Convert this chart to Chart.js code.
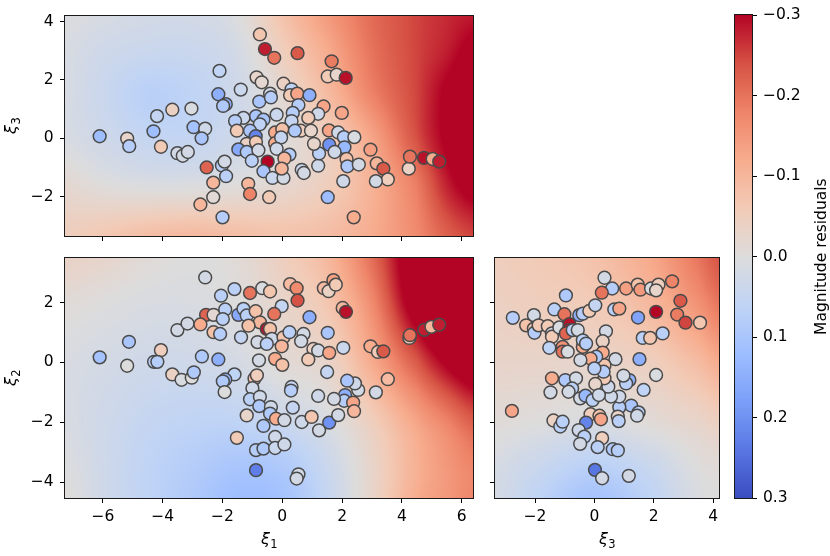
<!DOCTYPE html>
<html><head><meta charset="utf-8">
<script src="https://cdn.jsdelivr.net/npm/chart.js@4.4.1/dist/chart.umd.min.js"></script>
<style>
html,body{margin:0;padding:0;background:#fff;}
#wrap{position:relative;width:830px;height:556px;overflow:hidden;background:#fff;}
canvas{position:absolute;left:0;top:0;}
</style></head><body>
<div id="wrap">
<canvas id="cTop" width="830" height="556"></canvas>
<canvas id="cBL" width="830" height="556"></canvas>
<canvas id="cBR" width="830" height="556"></canvas>
<canvas id="cBar" width="830" height="556"></canvas>
</div>
<script>
// ---------- axis ranges & tick labels ----------
const xi1Range = [-7.27, 6.38];
const xi2Range = [-4.53, 3.49];
const xi3Range = [-3.35, 4.2];
const residualRange = [-0.3, 0.3];
const xi1Ticks = [-6, -4, -2, 0, 2, 4, 6];
const xi2Ticks = [-4, -2, 0, 2];
const xi3Ticks = [-2, 0, 2, 4];
const colorbarTicks = [-0.3, -0.2, -0.1, 0, 0.1, 0.2, 0.3];
const axisTitles = { xi1: ['ξ', '1'], xi2: ['ξ', '2'], xi3: ['ξ', '3'] };
const colorbarLabel = 'Magnitude residuals';

// ---------- points: [x, y, residual] ----------
// top panel: (ξ1, ξ3)
const pointsXi1Xi3 = [
[-6.11,0.07,0.12],[-5.19,-0.01,-0.03],[-5.12,-0.27,0.08],[-4.31,0.24,0.12],[-4.06,-0.29,-0.06],[-4.19,0.76,0.05],[-3.68,0.98,-0.04],[-3.04,1.02,0.01],[-3.51,-0.51,0.02],[-3.33,-0.60,0.02],[-3.16,-0.47,0.02],[-2.97,0.38,0.11],[-2.58,0.33,0.03],[-2.70,0.00,0.10],
[-0.75,3.56,-0.07],[-0.58,3.06,-0.28],[-0.27,2.76,-0.20],[0.51,2.92,-0.23],[1.65,2.64,-0.19],[1.52,2.12,-0.06],[-2.10,2.31,0.06],[-0.86,2.09,-0.03],[-0.69,1.92,-0.02],[-1.39,1.67,0.04],[0.04,1.87,-0.04],[-2.14,1.51,0.15],[-1.89,1.17,0.15],[-1.98,1.11,0.09],[-0.77,1.26,0.10],[-0.41,1.53,0.02],[-0.38,1.40,0.08],[0.31,1.68,0.06],[0.26,1.48,-0.06],[0.50,1.53,-0.13],[0.91,1.48,0.15],[0.54,1.14,0.08],[1.38,1.09,-0.13],[1.20,0.84,0.03],[0.87,0.70,-0.06],[0.35,0.87,0.08],[-0.19,0.81,0.04],[0.31,0.59,0.05],[-0.88,0.76,0.10],[-0.63,0.64,0.10],[-0.75,0.48,0.06],[-1.30,0.70,0.04],[-1.58,0.59,0.08],[-1.52,0.26,-0.06],[-1.08,0.26,0.10],[-0.89,0.07,0.22],[-1.19,-0.19,-0.04],[-0.88,-0.13,-0.06],[-0.24,0.20,-0.12],[0.00,0.31,-0.08],[-0.24,-0.17,-0.12],[-0.04,0.03,0.05],[-0.19,-0.36,0.03],[0.24,-0.56,0.08],[0.07,-0.69,-0.10],[-1.47,-0.38,0.16],[-1.19,-0.47,0.09],[-0.80,-0.41,0.02],[-1.02,-0.77,0.07],[-0.49,-0.80,-0.30],[-0.63,-1.13,0.10],[-0.33,-1.36,0.04],[0.04,-1.36,0.02],[-0.02,-1.04,-0.10],[0.65,-1.08,0.04],[0.72,-1.19,0.02],[1.20,-0.94,0.03],[1.23,-0.52,0.07],[0.62,0.26,-0.05],[0.96,0.26,-0.03],[1.06,-0.19,-0.03],[0.42,0.26,0.09],[-2.53,-1.00,-0.22],[-2.02,-0.93,0.08],[-1.93,-0.80,0.02],[-1.88,-1.30,0.07],[-2.31,-1.52,-0.10],[-1.14,-1.56,-0.10],[-1.08,-1.91,-0.18],[-2.31,-2.02,-0.01],[-2.74,-2.27,-0.10],[-2.00,-2.71,0.08],[-0.44,-2.02,-0.06],[1.52,-2.02,0.12],
[1.82,2.18,-0.03],[2.12,2.07,-0.29],[1.57,-0.22,0.20],[1.56,0.27,-0.13],[1.87,0.20,0.03],[2.06,0.04,0.08],[2.41,0.04,0.01],[2.08,-0.31,0.13],[2.95,-0.39,-0.14],[1.75,-0.47,0.03],[2.15,-0.71,-0.08],[2.18,-0.96,0.09],[2.56,-0.90,0.02],[3.16,-0.86,-0.10],[3.38,-1.04,-0.23],[3.53,-1.41,-0.05],[3.13,-1.47,0.02],[2.04,-1.47,0.03],[4.23,-1.04,-0.04],[4.27,-0.63,-0.20],[4.74,-0.67,-0.29],[5.03,-0.71,-0.12],[5.25,-0.80,-0.28],[1.99,0.87,-0.13],[2.39,-2.71,-0.12]
];
// bottom-left panel: (ξ1, ξ2)
const pointsXi1Xi2 = [
[-6.11,0.17,0.11],[-5.13,0.69,0.10],[-5.19,-0.11,0.00],[-4.06,0.41,-0.05],[-4.29,0.02,0.07],[-4.18,0.02,0.08],[-3.68,-0.40,-0.04],[-3.37,-0.58,0.01],[-3.03,-0.51,0.00],[-2.96,-0.33,0.09],[-3.51,1.08,0.02],[-3.17,1.30,0.02],
[-2.58,2.84,0.02],[-1.60,2.45,0.07],[-2.05,2.23,0.07],[-1.08,2.32,-0.20],[-0.67,2.48,0.01],[-0.41,2.37,-0.07],[0.26,2.62,-0.09],[0.48,2.48,-0.17],[0.51,2.07,-0.24],[-0.02,1.88,0.05],[0.91,1.51,0.15],[-2.55,1.59,-0.22],[-2.30,1.59,-0.02],[-2.74,1.27,-0.12],[-1.91,1.77,0.07],[-1.99,1.45,0.07],[-2.30,1.01,-0.08],[-2.08,0.95,0.08],[-1.47,1.59,0.16],[-1.30,1.79,0.07],[-1.19,1.57,0.07],[-0.89,1.71,-0.08],[-0.75,1.34,-0.10],[-1.13,1.23,-0.08],[-1.38,0.84,0.05],[-0.83,0.68,0.02],[-0.52,1.12,-0.29],[-0.41,1.12,-0.08],[-0.27,1.62,-0.20],[-0.35,0.79,0.03],[-0.52,0.62,0.07],[0.04,0.84,-0.07],[-0.02,0.54,-0.10],[0.24,1.01,0.07],[0.71,0.95,0.02],[0.63,0.71,0.02],[-0.24,0.12,-0.12],[0.00,-0.08,-0.08],[-0.78,0.07,0.02],[1.04,0.45,-0.04],[1.20,0.40,0.02],[1.57,0.32,-0.13],[0.87,0.10,-0.06],[1.52,0.99,0.10],[1.50,-0.32,0.05],[-2.69,0.20,0.09],[-2.14,0.10,0.15],[-1.60,-0.40,0.06],[-1.91,-0.57,0.14],[-1.99,-0.63,0.09],[-1.93,-0.99,0.00],[-0.93,-0.54,-0.08],[-0.85,-0.43,-0.05],[-1.00,-0.86,0.03],[-1.08,-1.23,0.07],[-0.75,-1.15,0.03],[-0.77,-1.46,0.09],[-0.38,-1.49,0.03],[-0.41,-1.71,0.09],[-0.21,-1.88,-0.12],[0.07,-1.93,0.02],[-1.19,-1.77,-0.03],[-0.63,-2.12,0.09],[0.31,-0.82,0.05],[0.29,-0.94,0.08],[0.35,-1.51,0.05],[0.65,-1.99,0.03],[0.98,-1.82,-0.07],[1.20,-1.12,0.03],[1.23,-2.27,0.02],[1.57,-2.01,0.20],[-1.52,-2.52,-0.06],[-0.88,-2.93,0.08],[-0.63,-2.88,0.09],[-0.24,-2.49,0.03],[-0.24,-2.86,0.04],[0.07,-2.74,0.03],[-0.88,-3.60,0.23],[0.54,-3.74,0.02],[0.48,-3.88,0.02],
[1.39,2.48,-0.09],[1.55,2.38,-0.04],[1.71,2.75,-0.14],[1.79,2.60,-0.06],[2.02,1.82,-0.10],[2.13,1.69,-0.29],[2.04,0.49,0.04],[2.95,0.54,-0.12],[3.20,0.35,-0.06],[3.38,0.37,-0.23],[3.53,-0.56,-0.09],[3.13,-1.00,0.02],[2.54,-0.92,0.02],[2.43,-0.70,0.03],[2.17,-0.61,0.10],[2.10,-1.09,0.15],[2.07,-1.28,0.08],[2.37,-1.34,-0.13],[2.40,-1.63,-0.10],[1.87,-1.76,0.02],[1.73,-1.22,0.02],[4.25,0.82,-0.06],[4.27,0.91,-0.20],[4.75,1.09,-0.28],[4.99,1.19,-0.10],[5.25,1.26,-0.28]
];
// bottom-right panel: (ξ3, ξ2)
const pointsXi3Xi2 = [
[-2.75,1.49,0.08],[-2.78,-1.62,-0.13],[-2.04,1.58,0.02],[-2.30,1.24,-0.08],[-2.04,1.13,-0.06],[-2.02,0.99,0.08],[-1.88,1.24,-0.06],[-1.57,1.21,-0.06],[-1.43,0.97,0.02],[-1.43,0.86,-0.06],[-1.52,0.49,0.06],[-1.35,1.77,0.07],[-0.96,2.24,0.09],[-1.01,1.61,-0.20],[-1.18,1.17,0.01],[-0.84,1.28,-0.29],[-0.87,1.08,-0.29],[-0.96,0.97,-0.22],[-0.73,1.08,0.07],[-0.56,1.08,0.02],[-0.51,1.58,0.15],[-0.39,1.63,0.08],[-0.17,1.72,-0.06],[0.03,1.91,0.05],[0.39,1.04,0.02],[0.28,0.71,-0.04],[0.34,2.83,0.02],[0.60,2.47,0.08],[0.25,2.33,-0.20],[0.67,1.77,0.07],[0.84,1.80,-0.13],[1.07,2.47,-0.14],[1.46,2.60,-0.08],[1.55,2.43,-0.15],[1.91,2.47,0.01],[2.16,2.60,-0.05],[2.08,2.41,-0.03],[2.62,2.71,-0.18],[2.90,2.06,-0.23],[2.08,1.69,-0.30],[2.79,1.60,-0.19],[3.07,1.33,-0.25],[3.56,1.33,-0.07],[1.47,1.50,0.17],[1.63,0.82,0.07],[1.88,0.82,-0.07],[2.30,0.97,0.07],[1.52,0.11,0.15],[2.08,-0.42,0.01],[1.66,-0.92,0.06],[1.24,-1.44,0.10],[1.49,-1.67,0.07],[1.44,-1.78,0.03],[0.84,-1.50,0.08],[0.79,-1.81,-0.03],[0.82,-1.96,0.07],[1.18,-0.59,0.14],[1.07,-0.70,0.07],[0.98,-0.44,0.02],[0.84,-1.14,0.03],[0.56,-1.14,0.03],[0.47,-0.81,0.03],[0.71,0.11,0.02],[0.34,-0.09,-0.07],[0.28,0.33,-0.12],[0.34,-0.53,-0.06],[0.31,-0.31,0.08],[0.03,-0.72,-0.03],[0.06,0.19,0.09],[-0.13,0.13,-0.12],[-0.39,0.52,-0.12],[-0.47,0.08,0.02],[-0.39,0.74,0.07],[-0.28,0.63,0.08],[-1.07,0.52,-0.16],[-1.07,0.36,-0.20],[-0.90,0.36,0.01],[-1.43,-0.53,-0.12],[-0.98,-0.59,0.09],[-0.62,-0.53,0.02],[-0.75,-0.87,0.07],[-0.87,-0.98,0.02],[-1.48,-1.00,0.02],[-0.48,-1.20,0.02],[-0.30,-1.11,0.13],[-0.06,-1.26,0.07],[0.15,-1.09,0.03],[-0.13,-1.73,-0.05],[0.17,-1.78,-0.08],[0.22,-1.90,-0.13],[-0.28,-2.01,0.22],[-0.53,-2.26,0.03],[-0.34,-2.48,0.07],[-0.48,-2.72,0.02],[-1.38,-1.94,-0.04],[-1.15,-2.14,0.07],[-1.07,-1.98,0.07],[0.26,-2.53,-0.05],[0.11,-2.83,0.07],[0.62,-2.90,0.09],[0.79,-2.94,0.08],[0.02,-3.59,0.24],[0.26,-3.87,0.02],[1.16,-3.79,0.02],[0.00,-0.20,0.07]
];

// ---------- background prediction fields (values read at grid nodes) ----------
const fieldXi1Nodes = [-7.5, -6, -4.5, -3, -1.5, 0, 1.5, 3, 4.5, 5.5, 6.5];
const fieldXi3NodesV = [4.5, 3, 1.5, 0, -1.5, -3.5];
const fieldXi1Xi3 = [
 [0.00, 0.01, 0.02, 0.02, 0.00, -0.08, -0.15, -0.21, -0.25, -0.27, -0.28],
 [0.01, 0.03, 0.04, 0.04, 0.02, -0.05, -0.12, -0.20, -0.25, -0.28, -0.32],
 [0.01, 0.04, 0.07, 0.06, 0.03, -0.02, -0.09, -0.18, -0.25, -0.31, -0.36],
 [0.01, 0.03, 0.05, 0.05, 0.03, 0.00, -0.05, -0.13, -0.24, -0.31, -0.37],
 [-0.02, 0.00, 0.01, 0.01, 0.00, -0.02, -0.05, -0.11, -0.19, -0.28, -0.33],
 [-0.05, -0.07, -0.09, -0.10, -0.09, -0.08, -0.09, -0.12, -0.17, -0.22, -0.25]
];
const fieldXi2NodesV = [3.75, 2, 0, -2, -3.5, -4.75];
const fieldXi1Xi2 = [
 [-0.04, -0.03, -0.01, 0.00, -0.01, -0.05, -0.10, -0.21, -0.36, -0.44, -0.44],
 [-0.01, 0.00, 0.01, 0.01, 0.00, -0.03, -0.07, -0.17, -0.34, -0.42, -0.44],
 [0.01, 0.02, 0.03, 0.03, 0.02, -0.01, -0.03, -0.12, -0.23, -0.31, -0.36],
 [0.01, 0.03, 0.05, 0.06, 0.06, 0.04, 0.01, -0.05, -0.13, -0.18, -0.23],
 [0.00, 0.03, 0.06, 0.08, 0.10, 0.09, 0.04, -0.03, -0.11, -0.15, -0.18],
 [-0.01, 0.03, 0.06, 0.09, 0.12, 0.11, 0.05, -0.03, -0.12, -0.15, -0.18]
];
const fieldXi3NodesH = [-3.75, -2, 0, 2, 3.5, 4.5];
const fieldXi3Xi2 = [
 [-0.05, -0.06, -0.08, -0.13, -0.20, -0.25],
 [-0.04, -0.05, -0.06, -0.10, -0.16, -0.21],
 [-0.03, -0.03, -0.03, -0.05, -0.09, -0.13],
 [-0.01, 0.00, 0.01, -0.01, -0.03, -0.05],
 [0.01, 0.04, 0.07, 0.04, 0.00, -0.01],
 [0.01, 0.06, 0.11, 0.06, 0.01, 0.00]
];

// coolwarm colour stops (0 -> 1)
const coolwarm = [[59,76,192],[89,119,227],[123,159,249],[158,190,255],[192,212,245],[221,220,220],[242,203,183],[247,172,142],[238,132,104],[214,82,68],[180,4,38]];

// ---------- helpers ----------
function cmapRGB(v) {
  let t = (residualRange[1] - v) / (residualRange[1] - residualRange[0]);
  t = Math.min(1, Math.max(0, t));
  const s = t * (coolwarm.length - 1);
  const k = Math.min(Math.floor(s), coolwarm.length - 2);
  const f = s - k, a = coolwarm[k], b = coolwarm[k + 1];
  return [a[0] + (b[0] - a[0]) * f, a[1] + (b[1] - a[1]) * f, a[2] + (b[2] - a[2]) * f];
}
function cmapCss(v) { const c = cmapRGB(v); return 'rgb(' + c.map(Math.round).join(',') + ')'; }
function idxOf(nodes, v) {
  const n = nodes.length, asc = nodes[n - 1] > nodes[0];
  if ((asc && v <= nodes[0]) || (!asc && v >= nodes[0])) return 0;
  for (let k = 0; k < n - 1; k++) {
    const a = nodes[k], b = nodes[k + 1];
    if ((asc && v <= b) || (!asc && v >= b)) return k + (v - a) / (b - a);
  }
  return n - 1;
}
function cr(p0, p1, p2, p3, t) {
  const t2 = t * t, t3 = t2 * t;
  return 0.5 * (2 * p1 + (-p0 + p2) * t + (2 * p0 - 5 * p1 + 4 * p2 - p3) * t2 + (-p0 + 3 * p1 - 3 * p2 + p3) * t3);
}
function sampleField(gx, gy, z, x, y) {
  const nx = gx.length, ny = gy.length;
  const u = idxOf(gx, x), w = idxOf(gy, y);
  const i = Math.min(Math.floor(u), nx - 2), j = Math.min(Math.floor(w), ny - 2);
  const tu = u - i, tw = w - j;
  const cc = k => Math.min(Math.max(k, 0), nx - 1), rc = k => Math.min(Math.max(k, 0), ny - 1);
  const r = [];
  for (let m = -1; m <= 2; m++) {
    const row = z[rc(j + m)];
    r.push(cr(row[cc(i - 1)], row[cc(i)], row[cc(i + 1)], row[cc(i + 2)], tu));
  }
  return cr(r[0], r[1], r[2], r[3], tw);
}
function fmtTick(v) {
  if (Math.abs(v) < 1e-9) return '0';
  return (v < 0 ? '\u2212' : '') + Math.abs(v);
}
function fmtBar(v) {
  const s = Math.abs(v).toFixed(1);
  return (v < -1e-9 ? '\u2212' : '') + s;
}

// ---------- plugins ----------
function makeFieldPlugin(gx, gy, z) {
  return {
    id: 'field',
    beforeDatasetsDraw(chart) {
      const { left, top, right, bottom } = chart.chartArea;
      const w = Math.round(right - left), h = Math.round(bottom - top);
      const xs = chart.scales.x, ys = chart.scales.y;
      const off = document.createElement('canvas');
      off.width = w; off.height = h;
      const octx = off.getContext('2d');
      const img = octx.createImageData(w, h);
      const xv = [];
      for (let i = 0; i < w; i++) xv.push(xs.getValueForPixel(left + i + 0.5));
      for (let j = 0; j < h; j++) {
        const yv = ys.getValueForPixel(top + j + 0.5);
        for (let i = 0; i < w; i++) {
          const c = cmapRGB(sampleField(gx, gy, z, xv[i], yv));
          const p = (j * w + i) * 4;
          img.data[p] = c[0]; img.data[p + 1] = c[1]; img.data[p + 2] = c[2]; img.data[p + 3] = 255;
        }
      }
      octx.putImageData(img, 0, 0);
      chart.ctx.drawImage(off, left, top, right - left, bottom - top);
    }
  };
}
const framePlugin = {
  id: 'frame',
  afterDraw(chart) {
    const { left, top, right, bottom } = chart.chartArea;
    const ctx = chart.ctx;
    ctx.save();
    ctx.strokeStyle = '#1a1a1a';
    ctx.lineWidth = 1;
    ctx.strokeRect(Math.round(left) - 0.5, Math.round(top) - 0.5, Math.round(right - left) + 1, Math.round(bottom - top) + 1);
    ctx.restore();
  }
};
// axis titles as ξ with a subscript index (mathtext style)
function drawSubTitle(ctx, parts, cx, cy, rotate) {
  ctx.save();
  ctx.translate(cx, cy);
  if (rotate) ctx.rotate(-Math.PI / 2);
  ctx.fillStyle = '#000';
  ctx.textBaseline = 'alphabetic';
  ctx.textAlign = 'left';
  const mainFont = 'italic 16px "DejaVu Sans"', subFont = '11.5px "DejaVu Sans"';
  ctx.font = mainFont; const wm = ctx.measureText(parts[0]).width;
  ctx.font = subFont; const ws = ctx.measureText(parts[1]).width;
  const x0 = -(wm + ws) / 2;
  ctx.font = mainFont; ctx.fillText(parts[0], x0, 0);
  ctx.font = subFont; ctx.fillText(parts[1], x0 + wm + 0.5, 4);
  ctx.restore();
}
function makeTitlePlugin(xTitle, yTitle) {
  return {
    id: 'subtitles',
    afterDraw(chart) {
      const { left, top, right, bottom } = chart.chartArea;
      if (xTitle) drawSubTitle(chart.ctx, xTitle, (left + right) / 2, bottom + 45.5, false);
      if (yTitle) drawSubTitle(chart.ctx, yTitle, 15.5, (top + bottom) / 2, true);
    }
  };
}
const colorbarPlugin = {
  id: 'colorbar',
  beforeDatasetsDraw(chart) {
    const { left, top, right, bottom } = chart.chartArea;
    const ys = chart.scales.y, ctx = chart.ctx;
    for (let py = Math.floor(top); py < Math.ceil(bottom); py++) {
      ctx.fillStyle = cmapCss(ys.getValueForPixel(py + 0.5));
      ctx.fillRect(left, py, right - left, 1);
    }
  },
  afterDraw(chart) {
    const ctx = chart.ctx, { top, bottom } = chart.chartArea;
    ctx.save();
    ctx.translate(826, (top + bottom) / 2);
    ctx.rotate(-Math.PI / 2);
    ctx.font = '15.5px "DejaVu Sans"';
    ctx.fillStyle = '#000';
    ctx.textAlign = 'center';
    ctx.textBaseline = 'alphabetic';
    ctx.fillText(colorbarLabel, 0, 0);
    ctx.restore();
  }
};

// ---------- chart factory ----------
Chart.defaults.font.family = '"DejaVu Sans"';
Chart.defaults.font.size = 15.5;
Chart.defaults.color = '#000';

function axis(range, tickVals, opts) {
  return {
    type: 'linear',
    position: opts.position,
    min: range[0], max: range[1],
    reverse: !!opts.reverse,
    afterBuildTicks: s => { s.ticks = tickVals.map(v => ({ value: v })); },
    afterFit: s => { if (opts.position === 'bottom') s.height = opts.size; else s.width = opts.size; },
    ticks: {
      display: true, autoSkip: false, maxRotation: 0,
      padding: opts.pad,
      callback: v => opts.labels ? (opts.fmt || fmtTick)(v) : '',
      color: '#000'
    },
    grid: { display: true, drawOnChartArea: false, drawTicks: true, tickLength: 5, tickWidth: 1, tickColor: '#000', color: '#000' },
    border: { display: false },
    title: { display: false }
  };
}

function makeScatter(id, pts, xAx, yAx, pad, field, titles) {
  return new Chart(document.getElementById(id), {
    type: 'scatter',
    data: {
      datasets: [{
        data: pts.map(p => ({ x: p[0], y: p[1] })),
        backgroundColor: pts.map(p => cmapCss(p[2])),
        borderColor: '#4a4a4a',
        borderWidth: 1.5,
        pointRadius: 6.4,
        pointHoverRadius: 6.4
      }]
    },
    options: {
      responsive: false, animation: false, events: [], devicePixelRatio: 1,
      layout: { padding: pad },
      plugins: { legend: { display: false }, tooltip: { enabled: false } },
      scales: { x: xAx, y: yAx }
    },
    plugins: [makeFieldPlugin(field[0], field[1], field[2]), framePlugin, makeTitlePlugin(titles[0], titles[1])]
  });
}

// top panel (ξ1 vs ξ3), x labels hidden (shared)
makeScatter('cTop', pointsXi1Xi3,
  axis(xi1Range, xi1Ticks, { position: 'bottom', size: 6, pad: 4, labels: false }),
  axis(xi3Range, xi3Ticks, { position: 'left', size: 65, pad: 6.5, labels: true }),
  { left: 0, top: 11, right: 357, bottom: 556 - 236 - 6 },
  [fieldXi1Nodes, fieldXi3NodesV, fieldXi1Xi3],
  [null, axisTitles.xi3]);

// bottom-left panel (ξ1 vs ξ2)
makeScatter('cBL', pointsXi1Xi2,
  axis(xi1Range, xi1Ticks, { position: 'bottom', size: 50, pad: 5, labels: true }),
  axis(xi2Range, xi2Ticks, { position: 'left', size: 65, pad: 6.5, labels: true }),
  { left: 0, top: 258, right: 357, bottom: 556 - 498 - 50 },
  [fieldXi1Nodes, fieldXi2NodesV, fieldXi1Xi2],
  [axisTitles.xi1, axisTitles.xi2]);

// bottom-right panel (ξ3 vs ξ2), y labels hidden (shared)
makeScatter('cBR', pointsXi3Xi2,
  axis(xi3Range, xi3Ticks, { position: 'bottom', size: 50, pad: 5, labels: true }),
  axis(xi2Range, xi2Ticks, { position: 'left', size: 6, pad: 4, labels: false }),
  { left: 489, top: 258, right: 830 - 719, bottom: 556 - 498 - 50 },
  [fieldXi3NodesH, fieldXi2NodesV, fieldXi3Xi2],
  [axisTitles.xi3, null]);

// colorbar
new Chart(document.getElementById('cBar'), {
  type: 'scatter',
  data: { datasets: [{ data: [] }] },
  options: {
    responsive: false, animation: false, events: [], devicePixelRatio: 1,
    layout: { padding: { left: 735, top: 10, right: 830 - 752 - 65, bottom: 556 - 498 } },
    plugins: { legend: { display: false }, tooltip: { enabled: false } },
    scales: {
      x: { display: false, min: 0, max: 1 },
      y: axis(residualRange, colorbarTicks, { position: 'right', size: 65, pad: 6, labels: true, reverse: true, fmt: fmtBar })
    }
  },
  plugins: [colorbarPlugin, framePlugin]
});
</script>
</body></html>
